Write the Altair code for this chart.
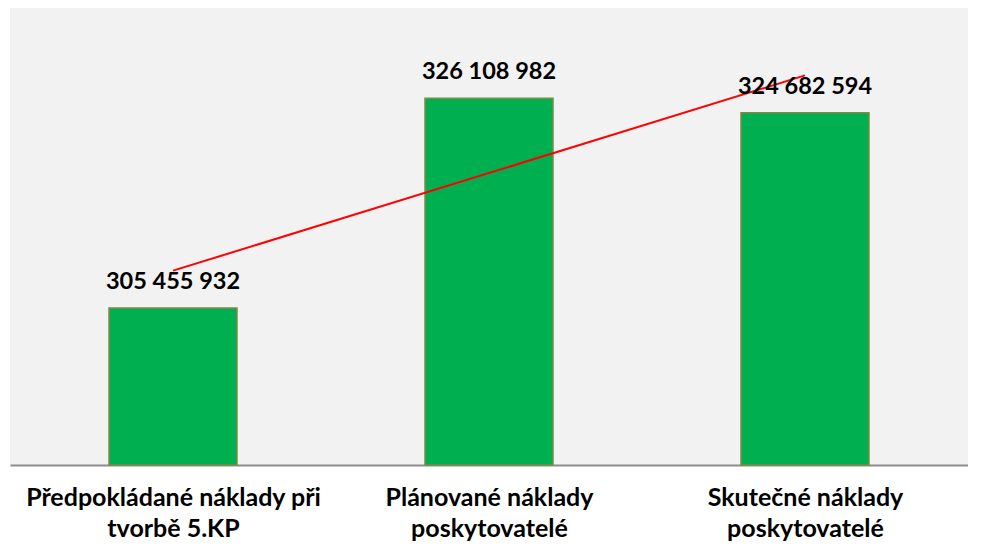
import altair as alt
import pandas as pd

categories = ["Předpokládané náklady při tvorbě 5.KP",
              "Plánované náklady poskytovatelé",
              "Skutečné náklady poskytovatelé"]
index = [1, 2, 3]
values = [305455932, 326108982, 324682594]

df = pd.DataFrame({"idx": index, "category": categories, "value": values})

label_expr = ("datum.value == 1 ? ['Předpokládané náklady při', 'tvorbě 5.KP'] : "
              "datum.value == 2 ? ['Plánované náklady', 'poskytovatelé'] : "
              "['Skutečné náklady', 'poskytovatelé']")

FONT = "Lato"

x = alt.X("idx:Q", scale=alt.Scale(domain=[0.5, 3.5], nice=False, zero=False),
          axis=alt.Axis(values=index, labelExpr=label_expr, title=None, grid=False,
                        ticks=False, domainColor="#8c8c8c", domainWidth=2,
                        labelFont=FONT, labelFontSize=25, labelFontWeight="bold",
                        labelColor="#000000", labelPadding=20, labelLineHeight=31,
                        labelLimit=1000, labelOverlap=False))
y = alt.Y("value:Q", scale=alt.Scale(domain=[290000000, 335000000], nice=False, zero=False),
          axis=None)

base = alt.Chart(df)

bars = base.mark_bar(size=128, color="#00b050", stroke="#7f8a45", strokeWidth=1.5).encode(
    x=x, y=y, y2=alt.datum(290000000))

texts = base.transform_calculate(
    lbl="join(split(format(datum.value, ','), ','), ' ')"
).mark_text(font=FONT, fontSize=23.5, fontWeight="bold", color="#000000",
            baseline="alphabetic", dy=-19).encode(x=x, y=y, text="lbl:N")

trend = base.transform_regression("idx", "value", extent=[1, 3]).mark_line(
    color="#ff0000", strokeWidth=2).encode(x=x, y=y)

chart = alt.layer(bars, trend, texts).properties(
    width=958, height=457,
    padding={"left": 2, "top": 0, "right": 0, "bottom": 0},
    background="#ffffff"
).configure_view(fill="#f2f2f2", stroke=None)

chart.save("out.html", embed_options={"renderer": "svg", "actions": False})
